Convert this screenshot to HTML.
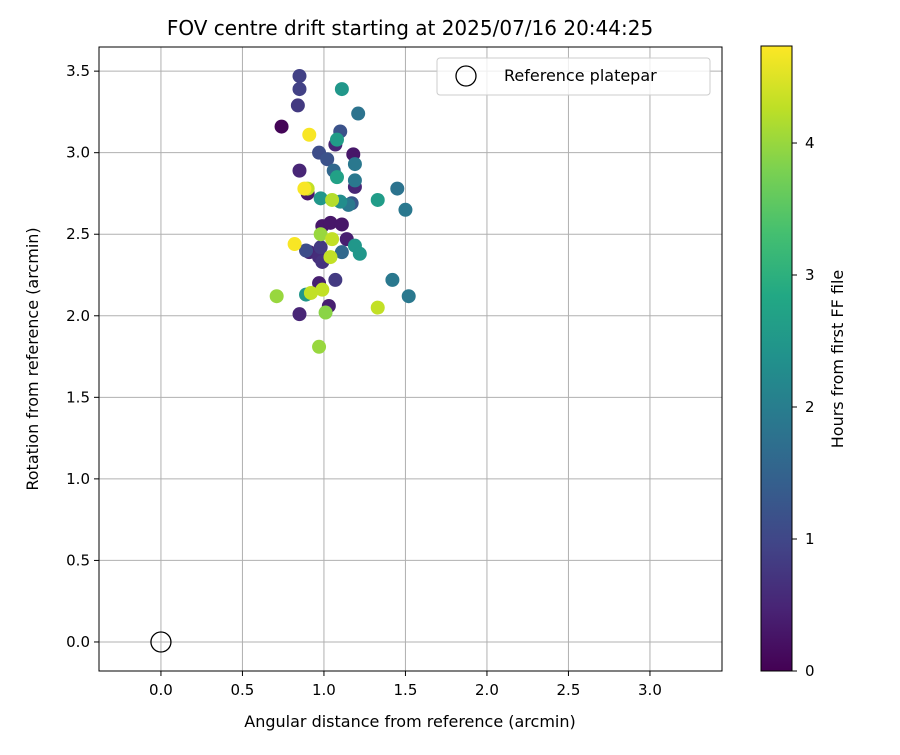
<!DOCTYPE html>
<html><head><meta charset="utf-8"><style>body{margin:0;background:#fff}svg text{font-family:"DejaVu Sans","Liberation Sans",sans-serif;fill:#000}</style></head>
<body>
<svg id="chart" width="900" height="750" xmlns="http://www.w3.org/2000/svg">
<defs><linearGradient id="vir" x1="0" y1="1" x2="0" y2="0">
<stop offset="0" stop-color="#440154"/><stop offset="0.1" stop-color="#482475"/><stop offset="0.2" stop-color="#414487"/><stop offset="0.3" stop-color="#355f8d"/><stop offset="0.4" stop-color="#2a788e"/><stop offset="0.5" stop-color="#21918c"/><stop offset="0.6" stop-color="#22a884"/><stop offset="0.7" stop-color="#44bf70"/><stop offset="0.8" stop-color="#7ad151"/><stop offset="0.9" stop-color="#bddf26"/><stop offset="1" stop-color="#fde725"/></linearGradient></defs>
<text x="410" y="35" text-anchor="middle" font-size="20">FOV centre drift starting at 2025/07/16 20:44:25</text>
<g id="grid"></g>
<g id="pts"></g>
<rect x="99" y="47" width="623" height="624" fill="none" stroke="#000" stroke-width="1"/>
<g id="ticks"></g>
<text x="410" y="727" text-anchor="middle" font-size="16">Angular distance from reference (arcmin)</text>
<text transform="translate(38,359) rotate(-90)" text-anchor="middle" font-size="16">Rotation from reference (arcmin)</text>
<g>
<rect x="437" y="58" width="273" height="37" rx="3" fill="#fff" fill-opacity="0.8" stroke="#ccc"/>
<circle cx="466" cy="76" r="10" fill="none" stroke="#000" stroke-width="1.3"/>
<text x="504" y="81" font-size="16">Reference platepar</text></g>
<rect x="761" y="46" width="31" height="625" fill="url(#vir)" stroke="#000"/>
<g id="cb"></g>
<text transform="translate(843,359) rotate(-90)" text-anchor="middle" font-size="16">Hours from first FF file</text>
</svg>
<script>
const xs=[0.85,0.85,0.84,1.11,1.21,0.74,0.91,1.10,1.07,1.08,0.97,1.02,1.18,1.19,0.85,1.06,1.08,1.19,1.19,1.45,0.90,0.88,0.90,0.98,1.05,1.10,1.15,1.17,1.33,1.50,0.99,1.04,1.11,1.14,0.98,1.05,0.82,0.89,0.91,0.98,1.11,1.19,1.22,0.97,0.99,1.04,1.42,1.07,0.97,0.71,0.89,0.92,0.99,1.52,1.03,0.85,1.01,1.33,0.97];
const ys=[3.47,3.39,3.29,3.39,3.24,3.16,3.11,3.13,3.05,3.08,3.00,2.96,2.99,2.93,2.89,2.89,2.85,2.83,2.79,2.78,2.78,2.78,2.75,2.72,2.71,2.70,2.68,2.69,2.71,2.65,2.55,2.57,2.56,2.47,2.50,2.47,2.44,2.40,2.39,2.42,2.39,2.43,2.38,2.36,2.33,2.36,2.22,2.22,2.20,2.12,2.13,2.14,2.16,2.12,2.06,2.01,2.02,2.05,1.81];
const hours=[0.9,0.9,0.8,2.5,1.8,0.05,4.7,1.2,0.5,2.6,1.1,1.2,0.3,1.9,0.5,1.6,2.7,1.9,0.5,1.8,4.3,4.7,0.3,2.5,4.2,2.3,1.9,1.3,2.6,1.9,0.3,0.3,0.3,0.4,4.0,4.3,4.7,1.1,0.5,0.8,1.6,2.5,2.5,0.6,0.7,4.3,1.9,0.8,0.4,4.0,2.5,4.3,4.3,1.9,0.4,0.5,3.9,4.3,4.0];
const xTicks=[0,0.5,1,1.5,2,2.5,3];
const yTicks=[0,0.5,1,1.5,2,2.5,3,3.5];
const cTicks=[0,1,2,3,4];
const X0=-0.38,X1=3.442,Y0=-0.178,Y1=3.648,CMAX=4.735;
const L=99,R=722,T=47,B=671;
const sx=v=>L+(v-X0)/(X1-X0)*(R-L), sy=v=>B-(v-Y0)/(Y1-Y0)*(B-T);
const cy=v=>671-v/CMAX*625;
const vir=[[68,1,84],[72,36,117],[65,68,135],[53,95,141],[42,120,142],[33,145,140],[34,168,132],[68,191,112],[122,209,81],[189,223,38],[253,231,37]];
function col(h){let t=Math.max(0,Math.min(1,h/CMAX))*10,i=Math.min(9,Math.floor(t)),f=t-i;const a=vir[i],b=vir[i+1];return `rgb(${a.map((v,k)=>Math.round(v+(b[k]-v)*f)).join(',')})`;}
const NS='http://www.w3.org/2000/svg';
function mk(tag,at,par){const e=document.createElementNS(NS,tag);for(const k in at)e.setAttribute(k,at[k]);document.getElementById(par).appendChild(e);return e;}
xTicks.forEach(v=>{const x=sx(v);
 const g=mk('line',{x1:x,x2:x,y1:T,y2:B,stroke:'#b0b0b0','stroke-width':1},'grid');
 const t=mk('line',{x1:x,x2:x,y1:B,y2:B+5,stroke:'#000'},'ticks');
 const l=mk('text',{x:x,y:B+24,'text-anchor':'middle','font-size':'15'},'ticks');l.textContent=v.toFixed(1);});
yTicks.forEach(v=>{const y=sy(v);
 const g=mk('line',{x1:L,x2:R,y1:y,y2:y,stroke:'#b0b0b0','stroke-width':1},'grid');
 const t=mk('line',{x1:L-5,x2:L,y1:y,y2:y,stroke:'#000'},'ticks');
 const l=mk('text',{x:L-9,y:y+5,'text-anchor':'end','font-size':'15'},'ticks');l.textContent=v.toFixed(1);});
cTicks.forEach(v=>{const y=cy(v);
 const t=mk('line',{x1:792,x2:797,y1:y,y2:y,stroke:'#000'},'cb');
 const l=mk('text',{x:805,y:y+5,'font-size':'15'},'cb');l.textContent=String(v);});
const order=xs.map((_,i)=>i).sort((a,b)=>hours[a]-hours[b]);
order.forEach(i=>{const c=mk('circle',{cx:sx(xs[i]),cy:sy(ys[i]),r:7,fill:col(hours[i])},'pts');
 
 });
const ref=mk('circle',{cx:sx(0),cy:sy(0),r:10,fill:'none',stroke:'#000','stroke-width':1.3},'pts');


</script>
</body></html>
